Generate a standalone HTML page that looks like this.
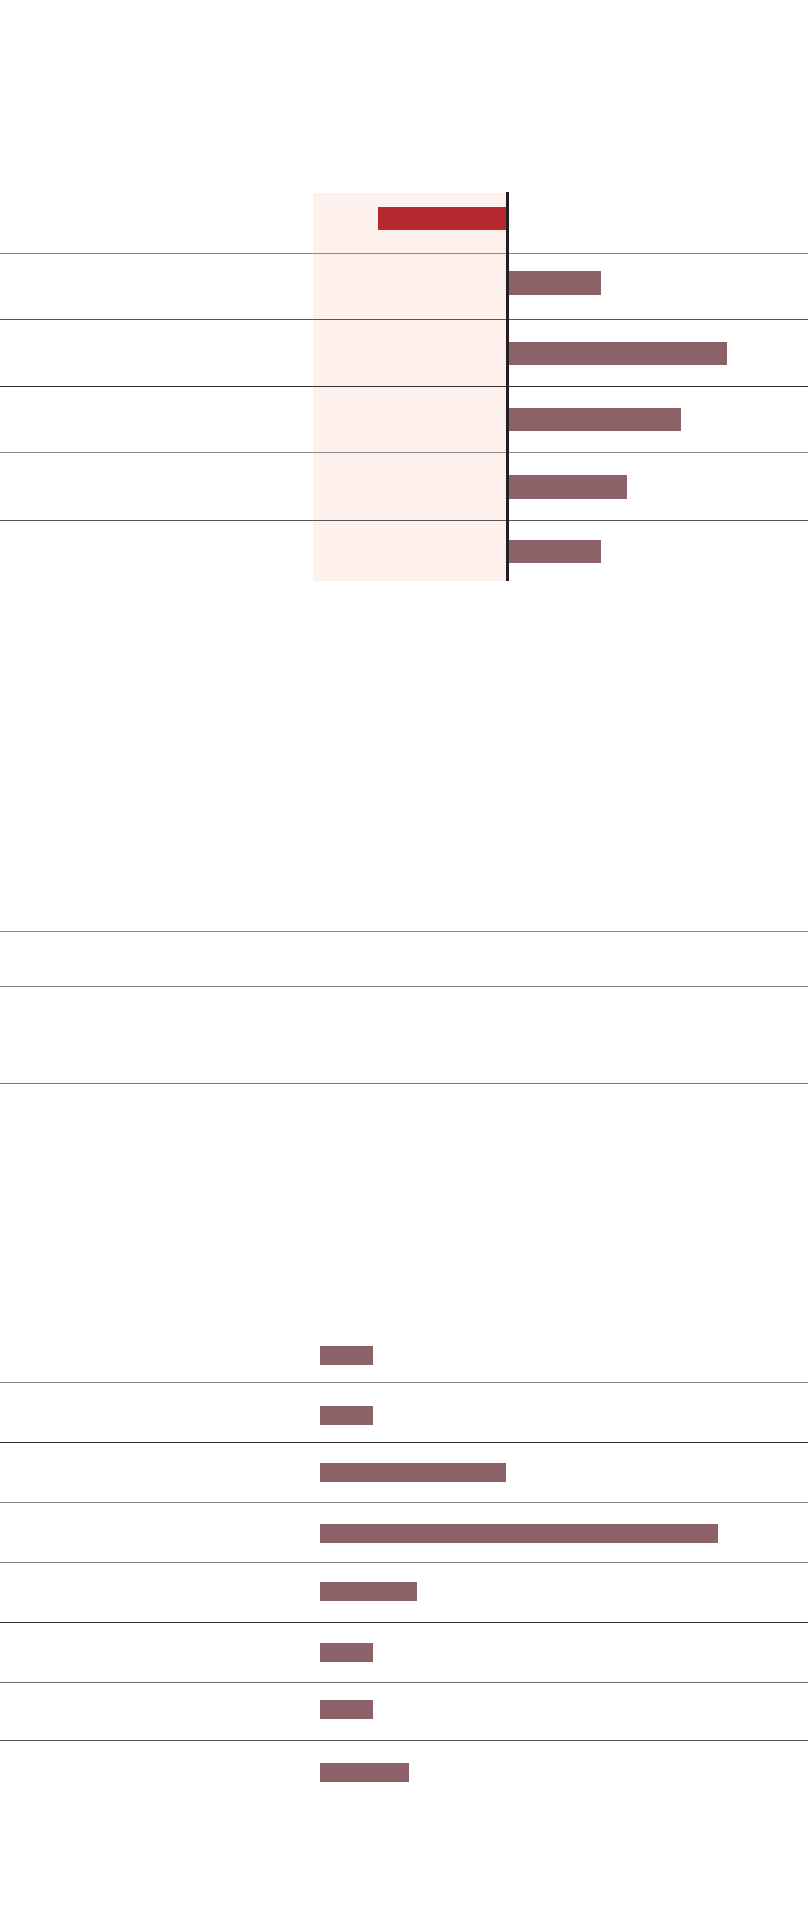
<!DOCTYPE html>
<html><head><meta charset="utf-8"><style>
html,body{margin:0;padding:0;background:#fff;}
body{width:808px;height:1916px;position:relative;overflow:hidden;}
div{position:absolute;}
.b{background:#8c6168;}
.lg{left:0;width:808px;height:1px;background:#8a8a8a;}
.ld{left:0;width:808px;height:1px;background:#333;}
</style></head><body>
<div style="left:313px;top:193px;width:194px;height:388px;background:#fef0ec"></div>
<div style="left:378px;top:207px;width:128px;height:23px;background:#b5292f"></div>
<div class="lg" style="top:253px"></div>
<div class="ld" style="top:319px;background:#555"></div>
<div class="ld" style="top:386px"></div>
<div class="lg" style="top:452px"></div>
<div class="ld" style="top:520px;background:#555"></div>
<div style="left:506px;top:192px;width:3px;height:389px;background:#231f20"></div>
<div class="b" style="left:509px;top:271px;width:92px;height:24px"></div>
<div class="b" style="left:509px;top:342px;width:218px;height:23px"></div>
<div class="b" style="left:509px;top:408px;width:172px;height:23px"></div>
<div class="b" style="left:509px;top:475px;width:118px;height:24px"></div>
<div class="b" style="left:509px;top:540px;width:92px;height:23px"></div>

<div class="lg" style="top:931px"></div>
<div class="lg" style="top:986px"></div>
<div class="ld" style="top:1083px;background:#777"></div>

<div class="b" style="left:320px;top:1346px;width:53px;height:19px"></div>
<div class="lg" style="top:1382px"></div>
<div class="b" style="left:320px;top:1406px;width:53px;height:19px"></div>
<div class="ld" style="top:1442px"></div>
<div class="b" style="left:320px;top:1463px;width:186px;height:19px"></div>
<div class="lg" style="top:1502px"></div>
<div class="b" style="left:320px;top:1524px;width:398px;height:19px"></div>
<div class="lg" style="top:1562px"></div>
<div class="b" style="left:320px;top:1582px;width:97px;height:19px"></div>
<div class="ld" style="top:1622px"></div>
<div class="b" style="left:320px;top:1643px;width:53px;height:19px"></div>
<div class="lg" style="top:1682px;background:#666"></div>
<div class="b" style="left:320px;top:1700px;width:53px;height:19px"></div>
<div class="lg" style="top:1740px;background:#555"></div>
<div class="b" style="left:320px;top:1763px;width:89px;height:19px"></div>
</body></html>
